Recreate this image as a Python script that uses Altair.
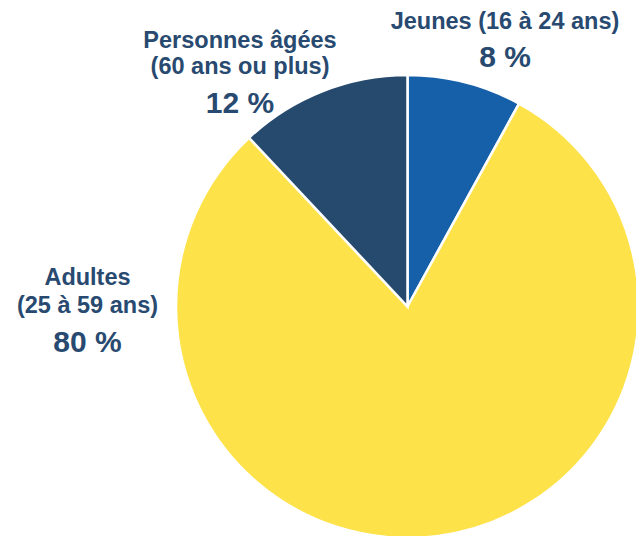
import altair as alt
import pandas as pd

categories = ["Jeunes", "Adultes", "Personnes âgées"]
age_ranges = ["(16 à 24 ans)", "(25 à 59 ans)", "(60 ans ou plus)"]
values = [8, 80, 12]
slice_order = [0, 1, 2]
colors = ["#1560a8", "#fee24a", "#264a6e"]

TEXT_COLOR = "#284a70"
FONT = "Liberation Sans"

df = pd.DataFrame({
    "cat": categories,
    "range": age_ranges,
    "value": values,
    "order": slice_order,
})
df["pct"] = df["value"].astype(str) + " %"
df["full"] = df["cat"] + " " + df["range"]

base = alt.Chart(df)

pie = base.mark_arc(radius=231.5, stroke="white", strokeWidth=2.5).encode(
    theta=alt.Theta("value:Q", stack=True),
    color=alt.Color("cat:N", scale=alt.Scale(domain=categories, range=colors), legend=None),
    order=alt.Order("order:Q"),
    x=alt.value(399.5),
    y=alt.value(298.5),
)


def txt(cat, field, x, y, size):
    return base.transform_filter(alt.datum.cat == cat).mark_text(
        font=FONT, fontWeight="bold", fontSize=size, color=TEXT_COLOR,
        align="center", baseline="alphabetic",
    ).encode(text=alt.Text(f"{field}:N"), x=alt.value(x), y=alt.value(y))


layers = [
    pie,
    txt("Jeunes", "full", 497, 21, 23.5),
    txt("Jeunes", "pct", 497, 59, 30),
    txt("Personnes âgées", "cat", 232, 39.5, 23.5),
    txt("Personnes âgées", "range", 232, 65.5, 23.5),
    txt("Personnes âgées", "pct", 232, 105, 30),
    txt("Adultes", "cat", 79.5, 277, 23.5),
    txt("Adultes", "range", 79.5, 305, 23.5),
    txt("Adultes", "pct", 79.5, 344, 30),
]

chart = alt.layer(*layers).properties(
    width=628, height=528, padding=0, autosize=alt.AutoSizeParams(type="none"),
).configure_view(stroke=None)

chart.save("out.html", embed_options={"renderer": "svg", "actions": False})
